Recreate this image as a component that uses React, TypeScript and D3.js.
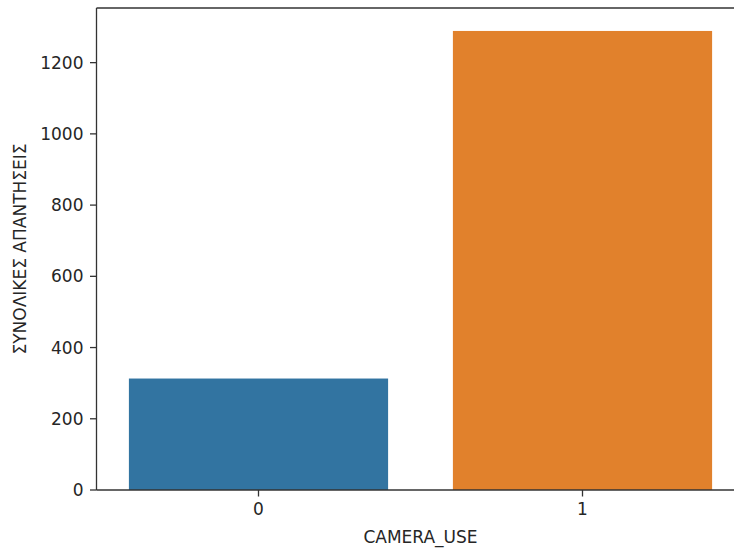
import React from "react";
import * as d3 from "d3";

const categories = ["0", "1"];
const values = [313, 1289];
const colors = ["#3274a1", "#e1812c"];
const yTicks = [0, 200, 400, 600, 800, 1000, 1200];
const xLabel = "CAMERA_USE";
const yLabel = "ΣΥΝΟΛΙΚΕΣ ΑΠΑΝΤΗΣΕΙΣ";

export default function App() {
  const W = 734, H = 548;
  const left = 96.5, right = 744.5, top = 8, bottom = 490;
  const x = d3.scaleBand<string>().domain(categories).range([left, right]).paddingInner(0.2).paddingOuter(0.1);
  const y = d3.scaleLinear().domain([0, d3.max(values)! * 1.05]).range([bottom, top]);
  const font = "DejaVu Sans, sans-serif";
  const axisColor = "#333";
  return (
    <svg width={W} height={H} style={{ position: "absolute", left: 0, top: 0, background: "#fff" }} fontFamily={font}>
      {values.map((v, i) => (
        <rect key={i} x={x(categories[i])} y={y(v)} width={x.bandwidth()} height={y(0) - y(v)} fill={colors[i]} />
      ))}
      <line x1={left} x2={left} y1={top} y2={bottom} stroke={axisColor} strokeWidth={1.3} />
      <line x1={left} x2={right} y1={bottom} y2={bottom} stroke={axisColor} strokeWidth={1.3} />
      <line x1={left} x2={right} y1={top} y2={top} stroke={axisColor} strokeWidth={1.3} />
      <line x1={right} x2={right} y1={top} y2={bottom} stroke={axisColor} strokeWidth={1.3} />
      {yTicks.map((t) => (
        <g key={t}>
          <line x1={left - 6.5} x2={left} y1={y(t)} y2={y(t)} stroke={axisColor} strokeWidth={1.3} />
          <text x={left - 13} y={y(t)} dy="0.36em" textAnchor="end" fontSize={17} fill="#262626">{t}</text>
        </g>
      ))}
      {categories.map((c) => {
        const cx = x(c)! + x.bandwidth() / 2;
        return (
          <g key={c}>
            <line x1={cx} x2={cx} y1={bottom} y2={bottom + 6.5} stroke={axisColor} strokeWidth={1.3} />
            <text x={cx} y={bottom + 12} dy="0.76em" textAnchor="middle" fontSize={17} fill="#262626">{c}</text>
          </g>
        );
      })}
      <text x={(left + right) / 2} y={543} textAnchor="middle" fontSize={17} fill="#262626">{xLabel}</text>
      <text transform={`translate(26, ${(top + bottom) / 2}) rotate(-90)`} textAnchor="middle" fontSize={17} fill="#262626">{yLabel}</text>
    </svg>
  );
}
